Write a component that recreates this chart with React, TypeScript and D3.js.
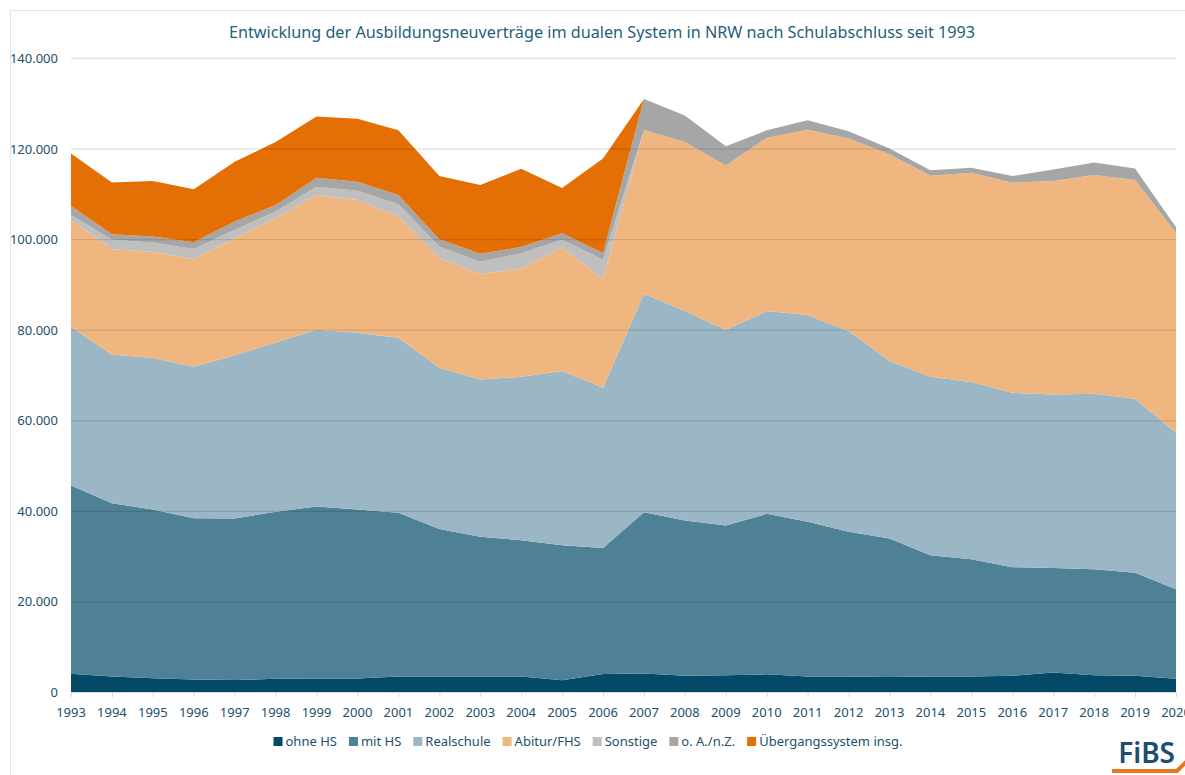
import React, { useEffect, useRef } from 'react';
import * as d3 from 'd3';

const years = [
  1993, 1994, 1995, 1996, 1997, 1998, 1999, 2000, 2001, 2002, 2003, 2004, 2005, 2006,
  2007, 2008, 2009, 2010, 2011, 2012, 2013, 2014, 2015, 2016, 2017, 2018, 2019, 2020,
];

const ohneHS = [
  4050, 3400, 3050, 2750, 2650, 2900, 3000, 3000, 3400, 3400, 3400, 3400, 2600, 4000,
  4100, 3600, 3700, 3900, 3400, 3400, 3300, 3400, 3400, 3600, 4300, 3700, 3600, 2900,
];
const mitHS = [
  41550, 38300, 37250, 35600, 35650, 36900, 37950, 37300, 36200, 32600, 30900, 30100, 29800, 27800,
  35600, 34260, 33060, 35440, 34170, 31960, 30590, 26800, 25900, 23950, 23080, 23390, 22750, 19800,
];
const realschule = [
  35000, 32850, 33450, 33450, 36050, 37350, 39050, 39050, 38650, 35600, 34700, 36100, 38470, 35380,
  48260, 46270, 43170, 44790, 45670, 44350, 39190, 39410, 39140, 38530, 38330, 38770, 38400, 34540,
];
const abitur = [
  23650, 23250, 23390, 23800, 25870, 27470, 29740, 29290, 26730, 24220, 23300, 23900, 27300, 24030,
  36140, 37340, 36320, 38210, 40940, 42490, 45670, 44380, 46210, 46370, 47110, 48280, 48290, 44160,
];
const sonstige = [
  1100, 2050, 2130, 2200, 1830, 1460, 1830, 2050, 2710, 2570, 2700, 3400, 1690, 4250,
  0, 0, 0, 0, 0, 0, 0, 0, 0, 0, 0, 0, 0, 0,
];
const ohneAngabe = [
  1980, 1250, 1320, 1540, 1830, 1470, 1980, 1980, 2050, 1610, 1780, 1340, 1460, 1460,
  6850, 5860, 4250, 1690, 2050, 1610, 1250, 1250, 1100, 1470, 2560, 2780, 2560, 1200,
];
const uebergang = [
  11570, 11430, 12230, 11650, 13190, 13910, 13550, 13920, 14290, 13920, 15160, 17290, 10000, 20880,
  0, 0, 0, 0, 0, 0, 0, 0, 0, 0, 0, 0, 0, 0,
];

const seriesNames = ['ohne HS', 'mit HS', 'Realschule', 'Abitur/FHS', 'Sonstige', 'o. A./n.Z.', 'Übergangssystem insg.'];
const seriesValues = [ohneHS, mitHS, realschule, abitur, sonstige, ohneAngabe, uebergang];
const colors = ['#044a68', '#4e8096', '#9bb7c6', '#f0b67f', '#bfbfbf', '#a6a6a6', '#e36f05'];

const yTicks = [0, 20000, 40000, 60000, 80000, 100000, 120000, 140000];

const W = 1185;
const H = 775;
const FONT = '"Noto Sans", sans-serif';
const TEXT = '#1e4f6b';

const App = () => {
  const ref = useRef<SVGSVGElement>(null);

  useEffect(() => {
    const svg = d3.select(ref.current);
    svg.selectAll('*').remove();

    const margin = { top: 58, right: 9, bottom: 83, left: 71 };
    const x = d3.scaleLinear().domain([1993, 2020]).range([margin.left, W - margin.right]);
    const y = d3.scaleLinear().domain([0, 140000]).range([H - margin.bottom, margin.top]);

    // frame
    svg.append('rect')
      .attr('x', 10.5).attr('y', 10.5)
      .attr('width', W + 20).attr('height', H + 20)
      .attr('fill', '#fff').attr('stroke', '#e3e3e3');

    const rows = years.map((yr, i) => {
      const r: any = { year: yr };
      seriesNames.forEach((n, k) => { r[n] = seriesValues[k][i]; });
      return r;
    });
    const stacked = d3.stack().keys(seriesNames)(rows);

    const area = d3.area<any>()
      .x((d) => x(d.data.year))
      .y0((d) => y(d[0]))
      .y1((d) => y(d[1]));

    svg.append('g')
      .selectAll('path')
      .data(stacked)
      .enter()
      .append('path')
      .attr('d', area)
      .attr('fill', (_d, i) => colors[i]);

    // gridlines drawn over the areas, as in the original
    svg.append('g')
      .selectAll('line')
      .data(yTicks.filter((t) => t > 0))
      .enter()
      .append('line')
      .attr('x1', x(1993)).attr('x2', x(2020))
      .attr('y1', (d) => y(d) + 0.5).attr('y2', (d) => y(d) + 0.5)
      .attr('stroke', '#000').attr('stroke-opacity', 0.12).attr('stroke-width', 1.3);

    // y labels
    svg.append('g')
      .selectAll('text')
      .data(yTicks)
      .enter()
      .append('text')
      .attr('x', 58)
      .attr('y', (d) => y(d) + 5)
      .attr('text-anchor', 'end')
      .attr('font-family', FONT).attr('font-size', 13).attr('fill', TEXT)
      .text((d) => d3.format(',')(d).replace(/,/g, '.'));

    // x axis
    const xAxis = svg.append('g');
    xAxis.append('line')
      .attr('x1', x(1993)).attr('x2', x(2020))
      .attr('y1', y(0) + 0.5).attr('y2', y(0) + 0.5)
      .attr('stroke', '#d9d9d9');
    xAxis.selectAll('line.tick')
      .data(years)
      .enter()
      .append('line')
      .attr('class', 'tick')
      .attr('x1', (d) => x(d) + 0.5).attr('x2', (d) => x(d) + 0.5)
      .attr('y1', y(0)).attr('y2', y(0) + 5)
      .attr('stroke', '#d9d9d9');
    xAxis.selectAll('text')
      .data(years)
      .enter()
      .append('text')
      .attr('x', (d) => x(d))
      .attr('y', y(0) + 25)
      .attr('text-anchor', 'middle')
      .attr('font-family', FONT).attr('font-size', 13).attr('fill', TEXT)
      .text((d) => d);

    // title
    svg.append('text')
      .attr('x', 602).attr('y', 38)
      .attr('text-anchor', 'middle')
      .attr('font-family', FONT).attr('font-size', 16.2).attr('fill', '#1f5f7a')
      .text('Entwicklung der Ausbildungsneuverträge im dualen System in NRW nach Schulabschluss seit 1993');

    // legend
    const legend = svg.append('g');
    const items = legend.selectAll('g')
      .data(seriesNames)
      .enter()
      .append('g');
    items.append('rect')
      .attr('width', 9).attr('height', 9)
      .attr('y', -9)
      .attr('fill', (_d, i) => colors[i]);
    items.append('text')
      .attr('x', 12)
      .attr('font-family', FONT).attr('font-size', 13).attr('fill', TEXT)
      .text((d) => d);
    let cx = 0;
    const offsets: number[] = [];
    items.each(function () {
      const t = (this as SVGGElement).querySelector('text') as SVGTextElement;
      offsets.push(cx);
      cx += 12 + t.getComputedTextLength() + 12;
    });
    const total = cx - 12;
    const start = 588 - total / 2;
    items.attr('transform', (_d, i) => `translate(${start + offsets[i]},${746})`);

    // logo
    const logo = svg.append('g');
    logo.append('text')
      .attr('x', 1175).attr('y', 763)
      .attr('text-anchor', 'end')
      .attr('font-family', FONT).attr('font-size', 28).attr('font-weight', 600)
      .attr('fill', '#1b4f72')
      .text('FiBS');
    logo.append('path')
      .attr('d', 'M1112,771 L1177,771 L1190,758')
      .attr('fill', 'none')
      .attr('stroke', '#e8771e').attr('stroke-width', 4);
  }, []);

  return (
    <svg
      ref={ref}
      width={W}
      height={H}
      style={{ position: 'absolute', left: 0, top: 0, background: '#fff' }}
    />
  );
};

export default App;
